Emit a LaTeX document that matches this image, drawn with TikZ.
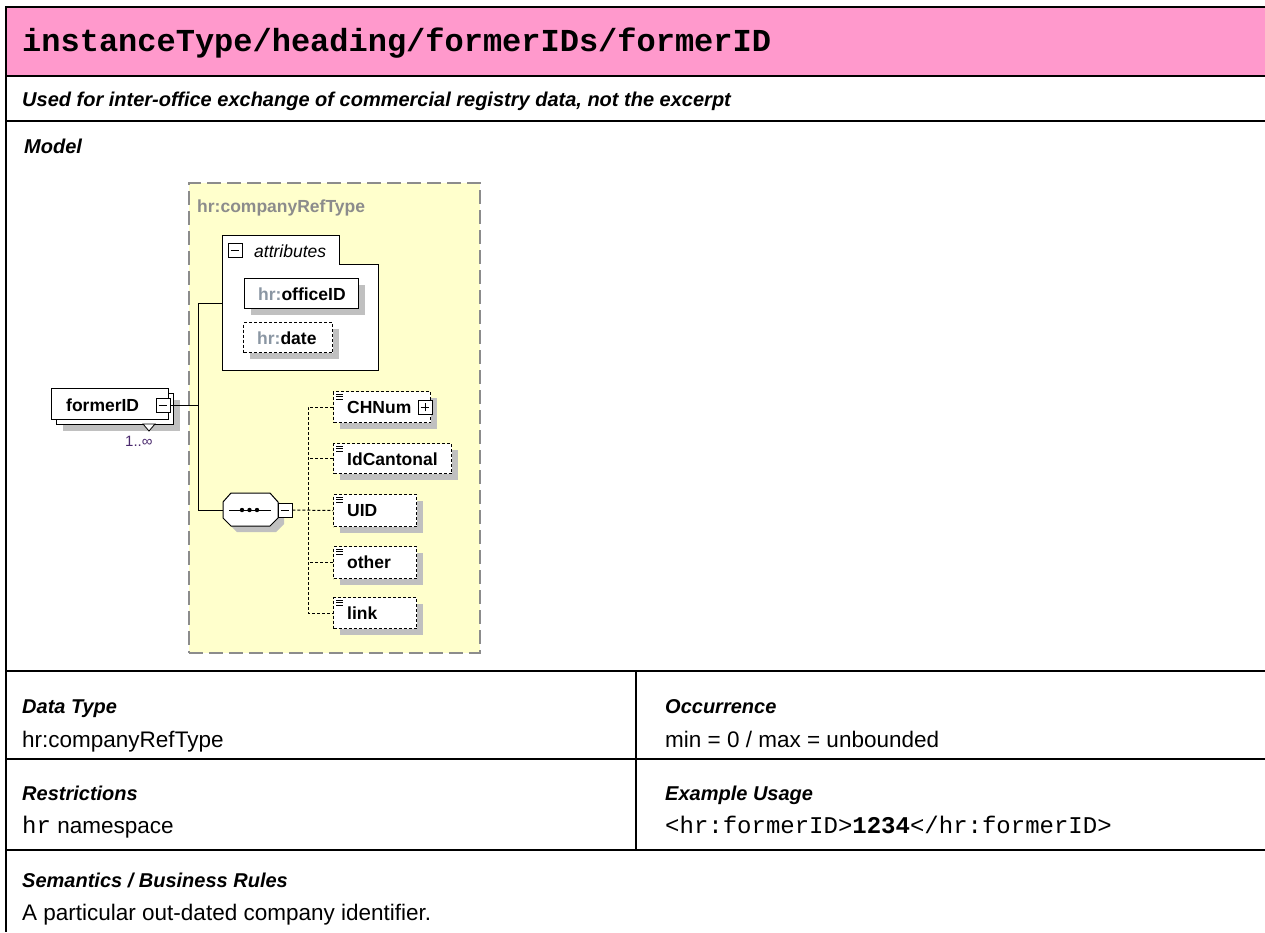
\documentclass[tikz,border=0pt]{standalone}
\usepackage{fontspec}
\setmainfont{Liberation Sans}
\setmonofont{Liberation Mono}
\usetikzlibrary{shadows}
\definecolor{hdrpink}{HTML}{FF99CC}
\definecolor{cmplx}{HTML}{FFFFCC}
\definecolor{shad}{HTML}{C0C0C0}
\definecolor{dgray}{HTML}{8C8C8C}
\definecolor{nsgray}{HTML}{8A96A3}
\definecolor{occ}{HTML}{4B2A6E}
\begin{document}
\begin{tikzpicture}[x=1pt,y=-1pt,
  tline/.style={line width=2pt},
  iline/.style={line width=1.5pt},
  hd/.style={anchor=base west, inner sep=0pt, font=\fontsize{20}{24}\selectfont\bfseries\itshape},
  bt/.style={anchor=base west, inner sep=0pt, font=\fontsize{22.5}{26}\selectfont},
  dl/.style={anchor=base west, inner sep=0pt, font=\fontsize{17.5}{20}\selectfont\bfseries},
  sbox/.style={draw, line width=1pt, fill=white, inner sep=0pt, anchor=north west},
  dbox/.style={sbox, dash pattern=on 3pt off 2pt},
  shd/.style={drop shadow={shadow xshift=6pt, shadow yshift=-6pt, fill=shad, opacity=1}},
  ctl/.style={draw, line width=0.8pt, fill=white, minimum size=14pt, inner sep=0pt},
  conn/.style={line width=1pt},
  dconn/.style={line width=1pt, dash pattern=on 3pt off 2pt},
]
\useasboundingbox (0,0) rectangle (1265,932);
% ---------- table ----------
\fill[hdrpink] (6,7) rectangle (1265,76);
\draw[tline] (5,7) -- (1265,7);
\draw[tline] (6,76) -- (1265,76);
\draw[tline] (6,121) -- (1265,121);
\draw[tline] (6,671) -- (1265,671);
\draw[iline] (6,759) -- (1265,759);
\draw[tline] (6,850) -- (1265,850);
\draw[iline] (636,671) -- (636,850);
\draw[iline] (6,6) -- (6,932);
\node[anchor=base west, inner sep=0pt, font=\fontsize{32}{36}\selectfont\ttfamily\bfseries] (title) at (22,51) {instanceType/heading/formerIDs/formerID};
\node[hd] (sub) at (22,106) {Used for inter-office exchange of commercial registry data, not the excerpt};
\node[hd] (model) at (24,153) {Model};
\node[hd] (dth) at (22,713) {Data Type};
\node[bt] (dtv) at (22,747) {hr:companyRefType};
\node[hd] (och) at (665,713) {Occurrence};
\node[bt] (ocv) at (665,747) {min = 0 / max = unbounded};
\node[hd] (rsh) at (22,800) {Restrictions};
\node[bt] (rsv) at (22,833) {{\ttfamily\fontsize{24}{26}\selectfont hr} namespace};
\node[hd] (exh) at (665,800) {Example Usage};
\node[anchor=base west, inner sep=0pt, font=\fontsize{24}{26}\selectfont\ttfamily] (exv) at (665,833) {<hr:formerID>\textbf{1234}</hr:formerID>};
\node[hd] (smh) at (22,887) {Semantics / Business Rules};
\node[bt] (smv) at (22,920) {A particular out-dated company identifier.};
% ---------- diagram ----------
\node[draw=dgray, fill=cmplx, line width=1.5pt, dash pattern=on 14pt off 6pt, minimum width=291pt, minimum height=470pt, anchor=north west, inner sep=0pt] (ctype) at (188,182) {};
\node[anchor=base west, inner sep=0pt, font=\fontsize{17.5}{20}\selectfont\bfseries, text=dgray] (ctypet) at (197,212) {hr:companyRefType};
% attributes
\draw[line width=1pt, fill=white] (222,370) -- (222,235) -- (339,235) -- (339,264) -- (378,264) -- (378,370) -- cycle;
\node[ctl] (attm) at (235,250) {};
\draw[line width=0.8pt] ([xshift=3pt]attm.west) -- ([xshift=-3pt]attm.east);
\node[anchor=base west, inner sep=0pt, font=\fontsize{17.5}{20}\selectfont\itshape] (attt) at (254,257) {attributes};
\coordinate (attrL) at (222,303);
\node[sbox, shd, minimum width=114pt, minimum height=30pt] (offid) at (244,278) {};
\node[dl] (offidt) at (258,300) {\textcolor{nsgray}{hr:}officeID};
\node[dbox, shd, minimum width=89pt, minimum height=30pt] (hdate) at (243,322) {};
\node[dl] (hdatet) at (257,344) {\textcolor{nsgray}{hr:}date};
% formerID
\node[sbox, shd, minimum width=117pt, minimum height=31pt] (fidb) at (56,393) {};
\node[sbox, minimum width=117pt, minimum height=31pt] (fid) at (51,388) {};
\node[dl] (fidt) at (66,411) {formerID};
\node[ctl] (fidm) at (163,405) {};
\draw[line width=0.8pt] ([xshift=3pt]fidm.west) -- ([xshift=-3pt]fidm.east);
\draw[line width=0.8pt, fill=white] (143,424) -- (155,424) -- (149,431) -- cycle;
\node[anchor=base west, inner sep=0pt, font=\fontsize{15}{18}\selectfont, text=occ] (occt) at (125,446) {1..∞};
% trunk
\coordinate (ta) at (198,303);
\coordinate (tb) at (198,510);
\node[inner sep=0pt, minimum width=55pt, minimum height=33pt] (choice) at (250.5,510) {};
\draw[conn] (attrL) -- (ta) -- (tb) -- (choice.west);
\draw[conn] (fidm.east) -- (fidm.east -| ta);
% choice octagon
\fill[shad] (229,508) -- (237,499) -- (276,499) -- (284,508) -- (284,524) -- (276,532) -- (237,532) -- (229,524) -- cycle;
\draw[line width=1pt, fill=white] (223,502) -- (231,493) -- (270,493) -- (278,502) -- (278,518) -- (270,526) -- (231,526) -- (223,518) -- cycle;
\draw[line width=1pt] (229,510) -- (271,510);
\fill (242,510) circle (2.2) (249.5,510) circle (2.2) (257,510) circle (2.2);
\node[ctl] (chm) at (285,510) {};
\draw[line width=0.8pt] ([xshift=3pt]chm.west) -- ([xshift=-3pt]chm.east);
% elements
\node[dbox, shd, minimum width=97pt, minimum height=31pt] (chnum) at (333,391) {};
\node[dbox, shd, minimum width=118pt, minimum height=30pt] (idc) at (333,443) {};
\node[dbox, shd, minimum width=83pt, minimum height=32pt] (uid) at (333,494) {};
\node[dbox, shd, minimum width=83pt, minimum height=32pt] (oth) at (333,546) {};
\node[dbox, shd, minimum width=83pt, minimum height=31pt] (lnk) at (333,597) {};
\draw[dconn] (chnum.west) -- ++(-25,0) |- (lnk.west);
\draw[dconn] (idc.west) -- ++(-25,0);
\draw[dconn] (oth.west) -- ++(-25,0);
\draw[dconn] (chm.east) -- (uid.west);
\foreach \n in {chnum,idc,uid,oth,lnk}{
  \foreach \k in {3,5.5,8}{
    \draw[line width=0.7pt] ([xshift=3pt,yshift=-\k pt]\n.north west) -- ++(7,0);
  }
}
\node[dl] (chnumt) at (347,413) {CHNum};
\node[dl] (idct) at (347,465) {IdCantonal};
\node[dl] (uidt) at (347,516) {UID};
\node[dl] (otht) at (347,568) {other};
\node[dl] (lnkt) at (347,619) {link};
\node[ctl] (chp) at (425,407) {};
\draw[line width=0.8pt] ([xshift=3pt]chp.west) -- ([xshift=-3pt]chp.east) ([yshift=3pt]chp.south) -- ([yshift=-3pt]chp.north);
\end{tikzpicture}
\end{document}
